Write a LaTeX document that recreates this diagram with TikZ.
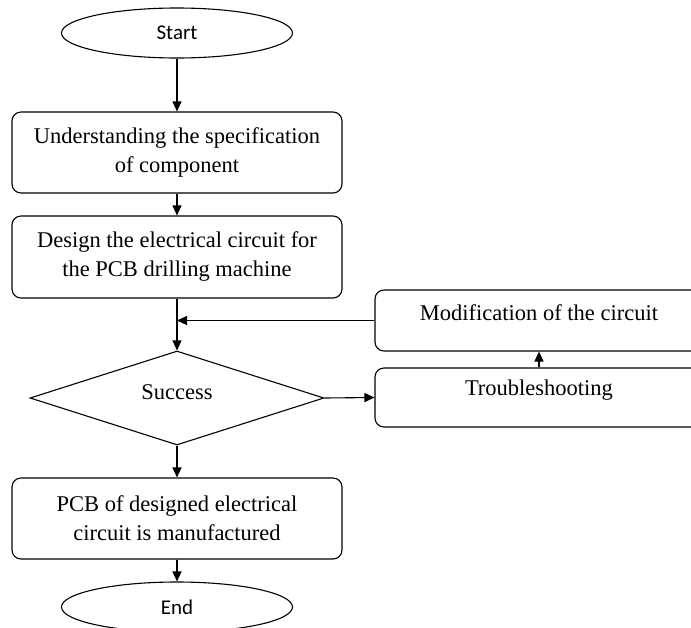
\documentclass[tikz,border=0pt]{standalone}
\usepackage{fontspec}
\setmainfont{Liberation Serif}
\newfontfamily\calfont{Carlito}
\usetikzlibrary{shapes.geometric,arrows.meta}
\begin{document}
\begin{tikzpicture}[x=1pt,y=-1pt, line width=1.1pt,
  box/.style={draw, rounded corners=9pt, inner sep=0pt, minimum width=330pt, align=center,
              font=\fontsize{22.5}{29}\selectfont},
  term/.style={draw, ellipse, inner sep=0pt, minimum width=231pt, minimum height=50pt,
              font=\calfont\fontsize{21}{25}\selectfont},
  dia/.style={draw, diamond, inner sep=0pt, minimum width=294pt, minimum height=94pt},
  lbl/.style={inner sep=0pt, font=\fontsize{22.5}{29}\selectfont},
  arr/.style={-{Triangle[length=10pt,width=9pt]}}
]
\useasboundingbox (0,0) rectangle (691,627);
\clip (0,0) rectangle (691,627);
\node[term] (start) at (177,33) {Start};
\node[box, minimum height=81pt] (b1) at (177,152.5) {Understanding the specification\\of component};
\node[box, minimum height=82pt] (b2) at (177,257) {Design the electrical circuit for\\the PCB drilling machine};
\node[dia] (dec) at (177,398) {};
\node[lbl] (dectext) at (177,392) {Success};
\node[box, minimum width=328pt, minimum height=61pt] (mod) at (539,320.5) {};
\node[lbl] (modtext) at (539,313) {Modification of the circuit};
\node[box, minimum width=328pt, minimum height=59pt] (trb) at (539,397.5) {};
\node[lbl] (trbtext) at (539,390) {Troubleshooting};
\node[box, minimum height=81pt] (pcb) at (177,518.5) {PCB of designed electrical\\circuit is manufactured};
\node[term] (end) at (177,607) {End};
\draw[arr] (start) -- (b1);
\draw[arr] (b1) -- (b2);
\draw[arr] (b2) -- (dec);
\draw[arr] (mod.west) -- (mod.west -| b2.south);
\draw[arr] (dec.east) -- (trb.west);
\draw[arr] (trb) -- (mod);
\draw[arr] (dec) -- (pcb);
\draw[arr] (pcb) -- (end);
\end{tikzpicture}
\end{document}
